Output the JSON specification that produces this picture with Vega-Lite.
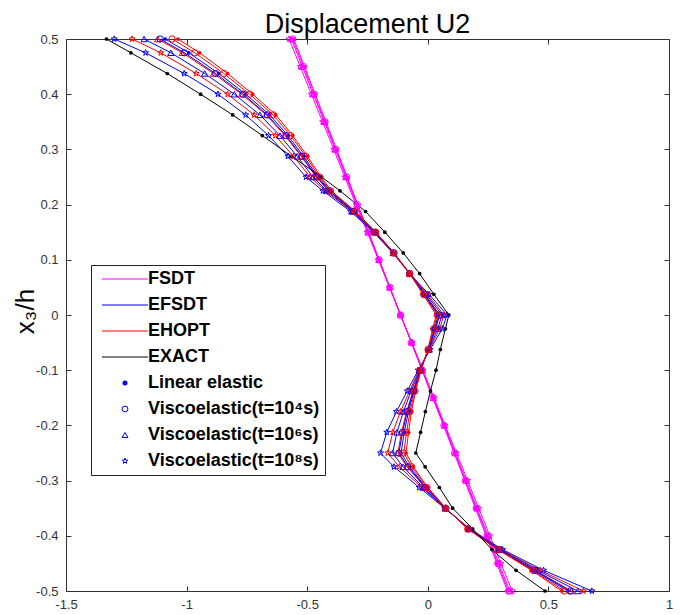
{
  "$schema": "https://vega.github.io/schema/vega-lite/v6.json",
  "autosize": {"type": "none"},
  "padding": {"left": 66, "top": 39, "right": 11, "bottom": 24},
  "width": 603,
  "height": 552,
  "title": {"text": "Displacement U2", "font": "Liberation Sans", "fontSize": 27, "fontWeight": "normal", "color": "black", "anchor": "middle", "frame": "group", "baseline": "alphabetic", "offset": -27},
  "config": {
    "view": {"stroke": "#333", "strokeWidth": 1},
    "axis": {"labelFont": "Liberation Sans", "labelFontSize": 13, "labelColor": "#333", "tickColor": "#333", "domain": false, "grid": false, "tickSize": -5, "tickWidth": 1}
  },
  "data": {"values": [
    {"m":"FSDT","c":"L","y":0.5,"x":-0.555},{"m":"FSDT","c":"L","y":0.45,"x":-0.511},{"m":"FSDT","c":"L","y":0.4,"x":-0.467},{"m":"FSDT","c":"L","y":0.35,"x":-0.422},{"m":"FSDT","c":"L","y":0.3,"x":-0.378},{"m":"FSDT","c":"L","y":0.25,"x":-0.334},{"m":"FSDT","c":"L","y":0.2,"x":-0.29},{"m":"FSDT","c":"L","y":0.15,"x":-0.245},{"m":"FSDT","c":"L","y":0.1,"x":-0.201},{"m":"FSDT","c":"L","y":0.05,"x":-0.157},{"m":"FSDT","c":"L","y":0,"x":-0.113},{"m":"FSDT","c":"L","y":-0.05,"x":-0.068},{"m":"FSDT","c":"L","y":-0.1,"x":-0.024},{"m":"FSDT","c":"L","y":-0.15,"x":0.02},{"m":"FSDT","c":"L","y":-0.2,"x":0.065},{"m":"FSDT","c":"L","y":-0.25,"x":0.109},{"m":"FSDT","c":"L","y":-0.3,"x":0.153},{"m":"FSDT","c":"L","y":-0.35,"x":0.197},{"m":"FSDT","c":"L","y":-0.4,"x":0.242},{"m":"FSDT","c":"L","y":-0.45,"x":0.286},{"m":"FSDT","c":"L","y":-0.5,"x":0.33},
    {"m":"FSDT","c":"V4","y":0.5,"x":-0.56},{"m":"FSDT","c":"V4","y":0.45,"x":-0.515},{"m":"FSDT","c":"V4","y":0.4,"x":-0.471},{"m":"FSDT","c":"V4","y":0.35,"x":-0.426},{"m":"FSDT","c":"V4","y":0.3,"x":-0.381},{"m":"FSDT","c":"V4","y":0.25,"x":-0.336},{"m":"FSDT","c":"V4","y":0.2,"x":-0.292},{"m":"FSDT","c":"V4","y":0.15,"x":-0.247},{"m":"FSDT","c":"V4","y":0.1,"x":-0.202},{"m":"FSDT","c":"V4","y":0.05,"x":-0.157},{"m":"FSDT","c":"V4","y":0,"x":-0.113},{"m":"FSDT","c":"V4","y":-0.05,"x":-0.068},{"m":"FSDT","c":"V4","y":-0.1,"x":-0.023},{"m":"FSDT","c":"V4","y":-0.15,"x":0.022},{"m":"FSDT","c":"V4","y":-0.2,"x":0.067},{"m":"FSDT","c":"V4","y":-0.25,"x":0.111},{"m":"FSDT","c":"V4","y":-0.3,"x":0.156},{"m":"FSDT","c":"V4","y":-0.35,"x":0.201},{"m":"FSDT","c":"V4","y":-0.4,"x":0.246},{"m":"FSDT","c":"V4","y":-0.45,"x":0.29},{"m":"FSDT","c":"V4","y":-0.5,"x":0.335},
    {"m":"FSDT","c":"V6","y":0.5,"x":-0.565},{"m":"FSDT","c":"V6","y":0.45,"x":-0.52},{"m":"FSDT","c":"V6","y":0.4,"x":-0.475},{"m":"FSDT","c":"V6","y":0.35,"x":-0.429},{"m":"FSDT","c":"V6","y":0.3,"x":-0.384},{"m":"FSDT","c":"V6","y":0.25,"x":-0.339},{"m":"FSDT","c":"V6","y":0.2,"x":-0.294},{"m":"FSDT","c":"V6","y":0.15,"x":-0.248},{"m":"FSDT","c":"V6","y":0.1,"x":-0.203},{"m":"FSDT","c":"V6","y":0.05,"x":-0.158},{"m":"FSDT","c":"V6","y":0,"x":-0.113},{"m":"FSDT","c":"V6","y":-0.05,"x":-0.067},{"m":"FSDT","c":"V6","y":-0.1,"x":-0.022},{"m":"FSDT","c":"V6","y":-0.15,"x":0.023},{"m":"FSDT","c":"V6","y":-0.2,"x":0.069},{"m":"FSDT","c":"V6","y":-0.25,"x":0.114},{"m":"FSDT","c":"V6","y":-0.3,"x":0.159},{"m":"FSDT","c":"V6","y":-0.35,"x":0.204},{"m":"FSDT","c":"V6","y":-0.4,"x":0.25},{"m":"FSDT","c":"V6","y":-0.45,"x":0.295},{"m":"FSDT","c":"V6","y":-0.5,"x":0.34},
    {"m":"FSDT","c":"V8","y":0.5,"x":-0.575},{"m":"FSDT","c":"V8","y":0.45,"x":-0.529},{"m":"FSDT","c":"V8","y":0.4,"x":-0.483},{"m":"FSDT","c":"V8","y":0.35,"x":-0.436},{"m":"FSDT","c":"V8","y":0.3,"x":-0.39},{"m":"FSDT","c":"V8","y":0.25,"x":-0.344},{"m":"FSDT","c":"V8","y":0.2,"x":-0.298},{"m":"FSDT","c":"V8","y":0.15,"x":-0.251},{"m":"FSDT","c":"V8","y":0.1,"x":-0.205},{"m":"FSDT","c":"V8","y":0.05,"x":-0.159},{"m":"FSDT","c":"V8","y":0,"x":-0.113},{"m":"FSDT","c":"V8","y":-0.05,"x":-0.066},{"m":"FSDT","c":"V8","y":-0.1,"x":-0.02},{"m":"FSDT","c":"V8","y":-0.15,"x":0.026},{"m":"FSDT","c":"V8","y":-0.2,"x":0.072},{"m":"FSDT","c":"V8","y":-0.25,"x":0.119},{"m":"FSDT","c":"V8","y":-0.3,"x":0.165},{"m":"FSDT","c":"V8","y":-0.35,"x":0.211},{"m":"FSDT","c":"V8","y":-0.4,"x":0.257},{"m":"FSDT","c":"V8","y":-0.45,"x":0.303},{"m":"FSDT","c":"V8","y":-0.5,"x":0.35},

    {"m":"EFSDT","c":"V8","y":0.5,"x":-1.3},{"m":"EFSDT","c":"V8","y":0.475,"x":-1.17},{"m":"EFSDT","c":"V8","y":0.4375,"x":-1.01},{"m":"EFSDT","c":"V8","y":0.4,"x":-0.87},{"m":"EFSDT","c":"V8","y":0.3625,"x":-0.755},{"m":"EFSDT","c":"V8","y":0.325,"x":-0.66},{"m":"EFSDT","c":"V8","y":0.2875,"x":-0.58},{"m":"EFSDT","c":"V8","y":0.25,"x":-0.505},{"m":"EFSDT","c":"V8","y":0.225,"x":-0.435},{"m":"EFSDT","c":"V8","y":0.1875,"x":-0.32},{"m":"EFSDT","c":"V8","y":0.15,"x":-0.225},{"m":"EFSDT","c":"V8","y":0.1125,"x":-0.145},{"m":"EFSDT","c":"V8","y":0.075,"x":-0.075},{"m":"EFSDT","c":"V8","y":0.0375,"x":0.005},{"m":"EFSDT","c":"V8","y":0,"x":0.08},{"m":"EFSDT","c":"V8","y":-0.025,"x":0.06},{"m":"EFSDT","c":"V8","y":-0.0625,"x":0.01},{"m":"EFSDT","c":"V8","y":-0.1,"x":-0.04},{"m":"EFSDT","c":"V8","y":-0.1375,"x":-0.085},{"m":"EFSDT","c":"V8","y":-0.175,"x":-0.13},{"m":"EFSDT","c":"V8","y":-0.2125,"x":-0.17},{"m":"EFSDT","c":"V8","y":-0.25,"x":-0.196},{"m":"EFSDT","c":"V8","y":-0.275,"x":-0.14},{"m":"EFSDT","c":"V8","y":-0.3125,"x":-0.035},{"m":"EFSDT","c":"V8","y":-0.35,"x":0.07},{"m":"EFSDT","c":"V8","y":-0.3875,"x":0.175},{"m":"EFSDT","c":"V8","y":-0.425,"x":0.31},{"m":"EFSDT","c":"V8","y":-0.4625,"x":0.48},{"m":"EFSDT","c":"V8","y":-0.5,"x":0.68},

    {"m":"EHOPT","c":"V8","y":0.5,"x":-1.226},{"m":"EHOPT","c":"V8","y":0.475,"x":-1.107},{"m":"EHOPT","c":"V8","y":0.4375,"x":-0.96},{"m":"EHOPT","c":"V8","y":0.4,"x":-0.83},{"m":"EHOPT","c":"V8","y":0.3625,"x":-0.72},{"m":"EHOPT","c":"V8","y":0.325,"x":-0.632},{"m":"EHOPT","c":"V8","y":0.2875,"x":-0.557},{"m":"EHOPT","c":"V8","y":0.25,"x":-0.488},{"m":"EHOPT","c":"V8","y":0.225,"x":-0.425},{"m":"EHOPT","c":"V8","y":0.1875,"x":-0.314},{"m":"EHOPT","c":"V8","y":0.15,"x":-0.222},{"m":"EHOPT","c":"V8","y":0.1125,"x":-0.144},{"m":"EHOPT","c":"V8","y":0.075,"x":-0.075},{"m":"EHOPT","c":"V8","y":0.0375,"x":-0.002},{"m":"EHOPT","c":"V8","y":0,"x":0.067},{"m":"EHOPT","c":"V8","y":-0.025,"x":0.049},{"m":"EHOPT","c":"V8","y":-0.0625,"x":0.007},{"m":"EHOPT","c":"V8","y":-0.1,"x":-0.037},{"m":"EHOPT","c":"V8","y":-0.1375,"x":-0.075},{"m":"EHOPT","c":"V8","y":-0.175,"x":-0.113},{"m":"EHOPT","c":"V8","y":-0.2125,"x":-0.145},{"m":"EHOPT","c":"V8","y":-0.25,"x":-0.166},{"m":"EHOPT","c":"V8","y":-0.275,"x":-0.118},{"m":"EHOPT","c":"V8","y":-0.3125,"x":-0.025},{"m":"EHOPT","c":"V8","y":-0.35,"x":0.071},{"m":"EHOPT","c":"V8","y":-0.3875,"x":0.172},{"m":"EHOPT","c":"V8","y":-0.425,"x":0.304},{"m":"EHOPT","c":"V8","y":-0.4625,"x":0.466},{"m":"EHOPT","c":"V8","y":-0.5,"x":0.645},

    {"m":"EFSDT","c":"V6","y":0.5,"x":-1.176},{"m":"EFSDT","c":"V6","y":0.475,"x":-1.065},{"m":"EFSDT","c":"V6","y":0.4375,"x":-0.925},{"m":"EFSDT","c":"V6","y":0.4,"x":-0.802},{"m":"EFSDT","c":"V6","y":0.3625,"x":-0.696},{"m":"EFSDT","c":"V6","y":0.325,"x":-0.613},{"m":"EFSDT","c":"V6","y":0.2875,"x":-0.542},{"m":"EFSDT","c":"V6","y":0.25,"x":-0.476},{"m":"EFSDT","c":"V6","y":0.225,"x":-0.419},{"m":"EFSDT","c":"V6","y":0.1875,"x":-0.311},{"m":"EFSDT","c":"V6","y":0.15,"x":-0.22},{"m":"EFSDT","c":"V6","y":0.1125,"x":-0.143},{"m":"EFSDT","c":"V6","y":0.075,"x":-0.075},{"m":"EFSDT","c":"V6","y":0.0375,"x":-0.007},{"m":"EFSDT","c":"V6","y":0,"x":0.059},{"m":"EFSDT","c":"V6","y":-0.025,"x":0.041},{"m":"EFSDT","c":"V6","y":-0.0625,"x":0.005},{"m":"EFSDT","c":"V6","y":-0.1,"x":-0.034},{"m":"EFSDT","c":"V6","y":-0.1375,"x":-0.069},{"m":"EFSDT","c":"V6","y":-0.175,"x":-0.101},{"m":"EFSDT","c":"V6","y":-0.2125,"x":-0.128},{"m":"EFSDT","c":"V6","y":-0.25,"x":-0.146},{"m":"EFSDT","c":"V6","y":-0.275,"x":-0.102},{"m":"EFSDT","c":"V6","y":-0.3125,"x":-0.019},{"m":"EFSDT","c":"V6","y":-0.35,"x":0.072},{"m":"EFSDT","c":"V6","y":-0.3875,"x":0.17},{"m":"EFSDT","c":"V6","y":-0.425,"x":0.301},{"m":"EFSDT","c":"V6","y":-0.4625,"x":0.456},{"m":"EFSDT","c":"V6","y":-0.5,"x":0.621},

    {"m":"EHOPT","c":"V6","y":0.5,"x":-1.12},{"m":"EHOPT","c":"V6","y":0.475,"x":-1.018},{"m":"EHOPT","c":"V6","y":0.4375,"x":-0.888},{"m":"EHOPT","c":"V6","y":0.4,"x":-0.772},{"m":"EHOPT","c":"V6","y":0.3625,"x":-0.67},{"m":"EHOPT","c":"V6","y":0.325,"x":-0.592},{"m":"EHOPT","c":"V6","y":0.2875,"x":-0.525},{"m":"EHOPT","c":"V6","y":0.25,"x":-0.463},{"m":"EHOPT","c":"V6","y":0.225,"x":-0.411},{"m":"EHOPT","c":"V6","y":0.1875,"x":-0.306},{"m":"EHOPT","c":"V6","y":0.15,"x":-0.218},{"m":"EHOPT","c":"V6","y":0.1125,"x":-0.142},{"m":"EHOPT","c":"V6","y":0.075,"x":-0.075},{"m":"EHOPT","c":"V6","y":0.0375,"x":-0.012},{"m":"EHOPT","c":"V6","y":0,"x":0.049},{"m":"EHOPT","c":"V6","y":-0.025,"x":0.033},{"m":"EHOPT","c":"V6","y":-0.0625,"x":0.003},{"m":"EHOPT","c":"V6","y":-0.1,"x":-0.032},{"m":"EHOPT","c":"V6","y":-0.1375,"x":-0.061},{"m":"EHOPT","c":"V6","y":-0.175,"x":-0.088},{"m":"EHOPT","c":"V6","y":-0.2125,"x":-0.109},{"m":"EHOPT","c":"V6","y":-0.25,"x":-0.124},{"m":"EHOPT","c":"V6","y":-0.275,"x":-0.086},{"m":"EHOPT","c":"V6","y":-0.3125,"x":-0.011},{"m":"EHOPT","c":"V6","y":-0.35,"x":0.073},{"m":"EHOPT","c":"V6","y":-0.3875,"x":0.168},{"m":"EHOPT","c":"V6","y":-0.425,"x":0.296},{"m":"EHOPT","c":"V6","y":-0.4625,"x":0.446},{"m":"EHOPT","c":"V6","y":-0.5,"x":0.595},

    {"m":"EFSDT","c":"V4","y":0.5,"x":-1.11},{"m":"EFSDT","c":"V4","y":0.475,"x":-1.009},{"m":"EFSDT","c":"V4","y":0.4375,"x":-0.88},{"m":"EFSDT","c":"V4","y":0.4,"x":-0.766},{"m":"EFSDT","c":"V4","y":0.3625,"x":-0.665},{"m":"EFSDT","c":"V4","y":0.325,"x":-0.588},{"m":"EFSDT","c":"V4","y":0.2875,"x":-0.522},{"m":"EFSDT","c":"V4","y":0.25,"x":-0.46},{"m":"EFSDT","c":"V4","y":0.225,"x":-0.41},{"m":"EFSDT","c":"V4","y":0.1875,"x":-0.306},{"m":"EFSDT","c":"V4","y":0.15,"x":-0.218},{"m":"EFSDT","c":"V4","y":0.1125,"x":-0.141},{"m":"EFSDT","c":"V4","y":0.075,"x":-0.075},{"m":"EFSDT","c":"V4","y":0.0375,"x":-0.013},{"m":"EFSDT","c":"V4","y":0,"x":0.048},{"m":"EFSDT","c":"V4","y":-0.025,"x":0.031},{"m":"EFSDT","c":"V4","y":-0.0625,"x":0.003},{"m":"EFSDT","c":"V4","y":-0.1,"x":-0.031},{"m":"EFSDT","c":"V4","y":-0.1375,"x":-0.06},{"m":"EFSDT","c":"V4","y":-0.175,"x":-0.085},{"m":"EFSDT","c":"V4","y":-0.2125,"x":-0.105},{"m":"EFSDT","c":"V4","y":-0.25,"x":-0.12},{"m":"EFSDT","c":"V4","y":-0.275,"x":-0.082},{"m":"EFSDT","c":"V4","y":-0.3125,"x":-0.01},{"m":"EFSDT","c":"V4","y":-0.35,"x":0.074},{"m":"EFSDT","c":"V4","y":-0.3875,"x":0.168},{"m":"EFSDT","c":"V4","y":-0.425,"x":0.296},{"m":"EFSDT","c":"V4","y":-0.4625,"x":0.444},{"m":"EFSDT","c":"V4","y":-0.5,"x":0.59},

    {"m":"EFSDT","c":"L","y":0.5,"x":-1.089},{"m":"EFSDT","c":"L","y":0.475,"x":-0.991},{"m":"EFSDT","c":"L","y":0.4375,"x":-0.866},{"m":"EFSDT","c":"L","y":0.4,"x":-0.755},{"m":"EFSDT","c":"L","y":0.3625,"x":-0.655},{"m":"EFSDT","c":"L","y":0.325,"x":-0.58},{"m":"EFSDT","c":"L","y":0.2875,"x":-0.515},{"m":"EFSDT","c":"L","y":0.25,"x":-0.455},{"m":"EFSDT","c":"L","y":0.225,"x":-0.407},{"m":"EFSDT","c":"L","y":0.1875,"x":-0.304},{"m":"EFSDT","c":"L","y":0.15,"x":-0.217},{"m":"EFSDT","c":"L","y":0.1125,"x":-0.141},{"m":"EFSDT","c":"L","y":0.075,"x":-0.075},{"m":"EFSDT","c":"L","y":0.0375,"x":-0.015},{"m":"EFSDT","c":"L","y":0,"x":0.044},{"m":"EFSDT","c":"L","y":-0.025,"x":0.028},{"m":"EFSDT","c":"L","y":-0.0625,"x":0.002},{"m":"EFSDT","c":"L","y":-0.1,"x":-0.03},{"m":"EFSDT","c":"L","y":-0.1375,"x":-0.057},{"m":"EFSDT","c":"L","y":-0.175,"x":-0.08},{"m":"EFSDT","c":"L","y":-0.2125,"x":-0.098},{"m":"EFSDT","c":"L","y":-0.25,"x":-0.111},{"m":"EFSDT","c":"L","y":-0.275,"x":-0.076},{"m":"EFSDT","c":"L","y":-0.3125,"x":-0.007},{"m":"EFSDT","c":"L","y":-0.35,"x":0.074},{"m":"EFSDT","c":"L","y":-0.3875,"x":0.167},{"m":"EFSDT","c":"L","y":-0.425,"x":0.294},{"m":"EFSDT","c":"L","y":-0.4625,"x":0.44},{"m":"EFSDT","c":"L","y":-0.5,"x":0.58},

    {"m":"EHOPT","c":"V4","y":0.5,"x":-1.06},{"m":"EHOPT","c":"V4","y":0.475,"x":-0.966},{"m":"EHOPT","c":"V4","y":0.4375,"x":-0.846},{"m":"EHOPT","c":"V4","y":0.4,"x":-0.739},{"m":"EHOPT","c":"V4","y":0.3625,"x":-0.641},{"m":"EHOPT","c":"V4","y":0.325,"x":-0.569},{"m":"EHOPT","c":"V4","y":0.2875,"x":-0.506},{"m":"EHOPT","c":"V4","y":0.25,"x":-0.449},{"m":"EHOPT","c":"V4","y":0.225,"x":-0.403},{"m":"EHOPT","c":"V4","y":0.1875,"x":-0.302},{"m":"EHOPT","c":"V4","y":0.15,"x":-0.216},{"m":"EHOPT","c":"V4","y":0.1125,"x":-0.14},{"m":"EHOPT","c":"V4","y":0.075,"x":-0.075},{"m":"EHOPT","c":"V4","y":0.0375,"x":-0.018},{"m":"EHOPT","c":"V4","y":0,"x":0.039},{"m":"EHOPT","c":"V4","y":-0.025,"x":0.024},{"m":"EHOPT","c":"V4","y":-0.0625,"x":0.001},{"m":"EHOPT","c":"V4","y":-0.1,"x":-0.029},{"m":"EHOPT","c":"V4","y":-0.1375,"x":-0.053},{"m":"EHOPT","c":"V4","y":-0.175,"x":-0.074},{"m":"EHOPT","c":"V4","y":-0.2125,"x":-0.088},{"m":"EHOPT","c":"V4","y":-0.25,"x":-0.1},{"m":"EHOPT","c":"V4","y":-0.275,"x":-0.067},{"m":"EHOPT","c":"V4","y":-0.3125,"x":-0.003},{"m":"EHOPT","c":"V4","y":-0.35,"x":0.075},{"m":"EHOPT","c":"V4","y":-0.3875,"x":0.166},{"m":"EHOPT","c":"V4","y":-0.425,"x":0.292},{"m":"EHOPT","c":"V4","y":-0.4625,"x":0.435},{"m":"EHOPT","c":"V4","y":-0.5,"x":0.566},

    {"m":"EHOPT","c":"L","y":0.5,"x":-1.036},{"m":"EHOPT","c":"L","y":0.475,"x":-0.946},{"m":"EHOPT","c":"L","y":0.4375,"x":-0.83},{"m":"EHOPT","c":"L","y":0.4,"x":-0.726},{"m":"EHOPT","c":"L","y":0.3625,"x":-0.63},{"m":"EHOPT","c":"L","y":0.325,"x":-0.56},{"m":"EHOPT","c":"L","y":0.2875,"x":-0.499},{"m":"EHOPT","c":"L","y":0.25,"x":-0.443},{"m":"EHOPT","c":"L","y":0.225,"x":-0.4},{"m":"EHOPT","c":"L","y":0.1875,"x":-0.3},{"m":"EHOPT","c":"L","y":0.15,"x":-0.215},{"m":"EHOPT","c":"L","y":0.1125,"x":-0.14},{"m":"EHOPT","c":"L","y":0.075,"x":-0.075},{"m":"EHOPT","c":"L","y":0.0375,"x":-0.02},{"m":"EHOPT","c":"L","y":0,"x":0.035},{"m":"EHOPT","c":"L","y":-0.025,"x":0.02},{"m":"EHOPT","c":"L","y":-0.0625,"x":0},{"m":"EHOPT","c":"L","y":-0.1,"x":-0.028},{"m":"EHOPT","c":"L","y":-0.1375,"x":-0.05},{"m":"EHOPT","c":"L","y":-0.175,"x":-0.068},{"m":"EHOPT","c":"L","y":-0.2125,"x":-0.08},{"m":"EHOPT","c":"L","y":-0.25,"x":-0.09},{"m":"EHOPT","c":"L","y":-0.275,"x":-0.06},{"m":"EHOPT","c":"L","y":-0.3125,"x":0},{"m":"EHOPT","c":"L","y":-0.35,"x":0.075},{"m":"EHOPT","c":"L","y":-0.3875,"x":0.165},{"m":"EHOPT","c":"L","y":-0.425,"x":0.29},{"m":"EHOPT","c":"L","y":-0.4625,"x":0.43},{"m":"EHOPT","c":"L","y":-0.5,"x":0.555},

    {"m":"EXACT","c":"L","y":0.5,"x":-1.332},{"m":"EXACT","c":"L","y":0.475,"x":-1.231},{"m":"EXACT","c":"L","y":0.4375,"x":-1.08},{"m":"EXACT","c":"L","y":0.4,"x":-0.942},{"m":"EXACT","c":"L","y":0.3625,"x":-0.809},{"m":"EXACT","c":"L","y":0.325,"x":-0.686},{"m":"EXACT","c":"L","y":0.2875,"x":-0.565},{"m":"EXACT","c":"L","y":0.25,"x":-0.44},{"m":"EXACT","c":"L","y":0.225,"x":-0.364},{"m":"EXACT","c":"L","y":0.1875,"x":-0.258},{"m":"EXACT","c":"L","y":0.15,"x":-0.178},{"m":"EXACT","c":"L","y":0.1125,"x":-0.102},{"m":"EXACT","c":"L","y":0.075,"x":-0.034},{"m":"EXACT","c":"L","y":0.0375,"x":0.025},{"m":"EXACT","c":"L","y":0,"x":0.087},{"m":"EXACT","c":"L","y":-0.025,"x":0.073},{"m":"EXACT","c":"L","y":-0.0625,"x":0.052},{"m":"EXACT","c":"L","y":-0.1,"x":0.034},{"m":"EXACT","c":"L","y":-0.1375,"x":0.011},{"m":"EXACT","c":"L","y":-0.175,"x":-0.01},{"m":"EXACT","c":"L","y":-0.2125,"x":-0.03},{"m":"EXACT","c":"L","y":-0.25,"x":-0.05},{"m":"EXACT","c":"L","y":-0.275,"x":-0.011},{"m":"EXACT","c":"L","y":-0.3125,"x":0.048},{"m":"EXACT","c":"L","y":-0.35,"x":0.103},{"m":"EXACT","c":"L","y":-0.3875,"x":0.186},{"m":"EXACT","c":"L","y":-0.425,"x":0.266},{"m":"EXACT","c":"L","y":-0.4625,"x":0.366},{"m":"EXACT","c":"L","y":-0.5,"x":0.486}
  ]},
  "resolve": {"axis": {"x": "independent", "y": "independent"}},
  "layer": [
    {
      "mark": {"type": "line", "strokeWidth": 1},
      "encoding": {
        "x": {"field": "x", "type": "quantitative", "scale": {"domain": [-1.5, 1], "nice": false, "zero": false},
              "axis": {"orient": "bottom", "title": null, "values": [-1.5, -1, -0.5, 0, 0.5, 1], "labelPadding": 12, "labelFlush": false, "labelExpr": "datum.value < 0 ? '-' + format(-datum.value, '~g') : format(datum.value, '~g')"}},
        "y": {"field": "y", "type": "quantitative", "scale": {"domain": [-0.5, 0.5], "nice": false, "zero": false},
              "axis": {"orient": "left", "title": "x₃/h", "titleFont": "Liberation Sans", "titleFontSize": 26, "titleFontWeight": "normal", "titleColor": "black", "titleAngle": -90, "titleAlign": "center", "titleBaseline": "alphabetic", "titleX": -33, "titleY": 272, "values": [-0.5, -0.4, -0.3, -0.2, -0.1, 0, 0.1, 0.2, 0.3, 0.4, 0.5], "labelPadding": 13, "labelFlush": false, "labelExpr": "datum.value < 0 ? '-' + format(-datum.value, '~g') : format(datum.value, '~g')"}},
        "color": {"field": "m", "type": "nominal",
                  "scale": {"domain": ["FSDT", "EFSDT", "EHOPT", "EXACT", "Linear elastic", "Viscoelastic(t=10⁴s)", "Viscoelastic(t=10⁶s)", "Viscoelastic(t=10⁸s)"],
                            "range": ["#ff00ff", "#0000ff", "#ff0000", "#000000", "#0000ff", "#0000ff", "#0000ff", "#0000ff"]},
                  "legend": {"orient": "none", "legendX": 25, "legendY": 226, "direction": "vertical", "title": null,
                             "strokeColor": "#222", "fillColor": "white", "padding": 5, "cornerRadius": 0,
                             "labelFont": "Liberation Sans", "labelFontSize": 18, "labelFontWeight": "bold", "labelColor": "black", "labelLimit": 400,
                             "labelOffset": 14, "symbolOffset": 20, "rowPadding": 8, "symbolSize": 30, "symbolType": "stroke", "symbolStrokeWidth": 1,
                             "encode": {"symbols": {"update": {
                               "shape": {"signal": "datum.index >= 7 ? 'M0,-1L0.235,-0.324L0.951,-0.309L0.38,0.124L0.588,0.809L0,0.4L-0.588,0.809L-0.38,0.124L-0.951,-0.309L-0.235,-0.324Z' : datum.index === 6 ? 'triangle-up' : datum.index >= 4 ? 'circle' : 'stroke'"},
                               "size": {"signal": "datum.index === 4 ? 4 : datum.index > 4 ? 34 : 2116"},
                               "strokeWidth": {"signal": "datum.index === 4 ? 3 : 1"},
                               "fill": {"signal": "datum.index === 4 ? '#0000ff' : 'transparent'"}
                             }}}}},
        "detail": {"field": "c", "type": "nominal"},
        "order": {"field": "y", "type": "quantitative"}
      }
    },
    {
      "transform": [{"filter": "datum.c === 'L'"}],
      "mark": {"type": "point", "filled": true, "size": 14, "shape": "circle", "opacity": 1},
      "encoding": {
        "x": {"field": "x", "type": "quantitative", "axis": null},
        "y": {"field": "y", "type": "quantitative", "axis": null},
        "fill": {"field": "m", "type": "nominal", "scale": {"domain": ["FSDT", "EFSDT", "EHOPT", "EXACT"], "range": ["#ff00ff", "#0000ff", "#ff0000", "#000000"]}, "legend": null}
      }
    },
    {
      "transform": [{"filter": "datum.c !== 'L'"}],
      "mark": {"type": "point", "filled": false, "size": 40, "strokeWidth": 1, "opacity": 1},
      "encoding": {
        "x": {"field": "x", "type": "quantitative", "axis": null},
        "y": {"field": "y", "type": "quantitative", "axis": null},
        "color": {"field": "m", "type": "nominal"},
        "shape": {"field": "c", "type": "nominal", "scale": {"domain": ["V4", "V6", "V8"], "range": ["circle", "triangle-up", "M0,-1L0.235,-0.324L0.951,-0.309L0.38,0.124L0.588,0.809L0,0.4L-0.588,0.809L-0.38,0.124L-0.951,-0.309L-0.235,-0.324Z"]}, "legend": null}
      }
    },
    {
      "mark": {"type": "point", "opacity": 0},
      "encoding": {
        "x": {"field": "x", "type": "quantitative", "axis": {"orient": "top", "title": null, "labels": false, "minExtent": 0, "maxExtent": 0, "values": [-1.5, -1, -0.5, 0, 0.5, 1]}},
        "y": {"field": "y", "type": "quantitative", "axis": {"orient": "right", "title": null, "labels": false, "minExtent": 0, "maxExtent": 0, "values": [-0.5, -0.4, -0.3, -0.2, -0.1, 0, 0.1, 0.2, 0.3, 0.4, 0.5]}}
      }
    }
  ]
}
